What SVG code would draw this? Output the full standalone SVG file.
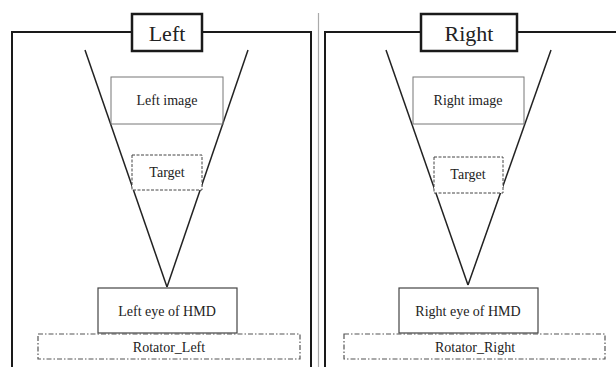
<svg xmlns="http://www.w3.org/2000/svg" width="616" height="367" viewBox="0 0 616 367">
<style>
text{font-family:"Liberation Serif","Times New Roman",serif;fill:#222;text-anchor:middle}
.frame{fill:none;stroke:#1a1a1a;stroke-width:2}
.title{fill:#fff;stroke:#1a1a1a;stroke-width:2.5}
.t1{font-size:22px}
.t2{font-size:14px}
.funnel{fill:none;stroke:#222;stroke-width:1.5}
.img{fill:#fff;stroke:#777;stroke-width:1}
.tgt{fill:#fff;stroke:#444;stroke-width:1;stroke-dasharray:3 1.5}
.eye{fill:#fff;stroke:#444;stroke-width:1.2}
.rot{fill:none;stroke:#555;stroke-width:1.2;stroke-dasharray:5 2 1.5 2}
</style>
<rect width="616" height="367" fill="#fff"/>
<line x1="318.5" y1="13" x2="318.5" y2="367" stroke="#aaa" stroke-width="1.2"/>
<g id="left-panel">
<path class="frame" d="M12,367 V32 H311 V367"/>
<g id="left-title"><rect class="title" x="132" y="14" width="70" height="37"/><text class="t1" x="167" y="41">Left</text></g>
<g id="connectors-left">
<line class="funnel" x1="85" y1="50" x2="167" y2="287"/>
<line class="funnel" x1="248" y1="50" x2="167" y2="287"/>
</g>
<g id="left-image"><rect class="img" x="111" y="77" width="112" height="47" fill-opacity="0"/><text class="t2" x="167" y="105">Left image</text></g>
<g id="left-target"><rect class="tgt" x="132" y="155" width="70" height="35"/><text class="t2" x="167" y="177">Target</text></g>
<g id="left-eye"><rect class="eye" x="98" y="288" width="139" height="45"/><text class="t2" x="167" y="316">Left eye of HMD</text></g>
<g id="rotator-left"><rect class="rot" x="38" y="334" width="262" height="25"/><text class="t2" x="169" y="352">Rotator_Left</text></g>
</g>
<g id="right-panel">
<path class="frame" d="M325,367 V32 H616"/>
<g id="right-title"><rect class="title" x="421" y="14" width="96" height="37"/><text class="t1" x="469" y="41">Right</text></g>
<g id="connectors-right">
<line class="funnel" x1="386" y1="50" x2="468" y2="285"/>
<line class="funnel" x1="551" y1="50" x2="468" y2="285"/>
</g>
<g id="right-image"><rect class="img" x="413" y="77" width="111" height="47"/><text class="t2" x="468" y="105">Right image</text></g>
<g id="right-target"><rect class="tgt" x="434" y="157" width="69" height="36"/><text class="t2" x="468" y="179">Target</text></g>
<g id="right-eye"><rect class="eye" x="399" y="288" width="139" height="45"/><text class="t2" x="468" y="316">Right eye of HMD</text></g>
<g id="rotator-right"><rect class="rot" x="344" y="334" width="261" height="25"/><text class="t2" x="475" y="352">Rotator_Right</text></g>
</g>
</svg>
